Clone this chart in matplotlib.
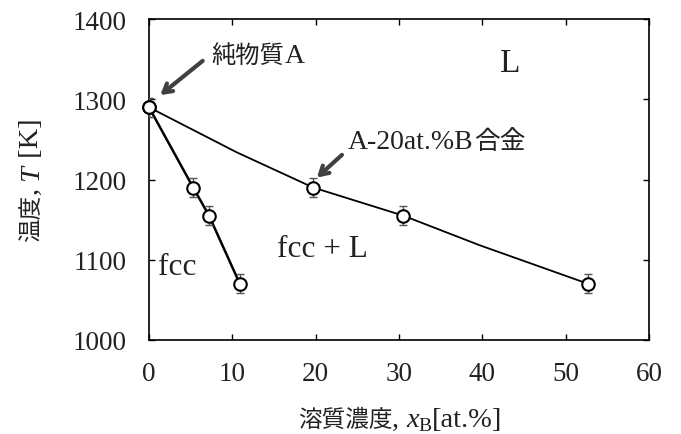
import matplotlib
matplotlib.use("Agg")
import matplotlib.pyplot as plt
from matplotlib.font_manager import FontProperties

# ---- data ----
solidus_x = [0.0, 5.3, 7.2, 10.9]
solidus_T = [1290, 1190, 1155, 1070]
liquidus_x = [0.0, 19.7, 30.5, 52.7]
liquidus_T = [1290, 1190, 1155, 1070]
liquidus_fit_x = [0.0, 10.5, 19.7, 30.5, 39.7, 52.7]
liquidus_fit_T = [1290, 1234, 1190, 1155, 1118, 1070]
err_T = 12
xticks = [0, 10, 20, 30, 40, 50, 60]
yticks = [1000, 1100, 1200, 1300, 1400]

SERIF = 'Liberation Serif'
CJK = 'Noto Sans CJK JP'
GREY = '#404040'
TXT = '#222222'

fig = plt.figure(figsize=(6.81, 4.35), dpi=100)
W, H = 681, 435
ax = fig.add_axes([149 / W, 1 - 341 / H, 500 / W, 321 / H])

ax.plot(liquidus_fit_x, liquidus_fit_T, color='black', lw=1.3, zorder=2)
ax.plot(solidus_x, solidus_T, color='black', lw=1.8, zorder=2)
for xs, ts in [(solidus_x, solidus_T), (liquidus_x, liquidus_T)]:
    ax.errorbar(xs, ts, yerr=err_T, fmt='none', ecolor='#555555',
                elinewidth=1.0, capsize=3, capthick=1.0, zorder=3)
    ax.plot(xs, ts, 'o', ms=9, mfc='white', mec='black', mew=1.5,
            zorder=4, clip_on=False)

ax.set_xlim(0, 60)
ax.set_ylim(1000, 1400)
ax.set_xticks(xticks)
ax.set_yticks(yticks)
ax.tick_params(direction='in', top=True, right=True, length=4,
               width=1.0, labelsize=19.5, labelcolor=TXT)
ax.tick_params(axis='x', pad=15)
ax.tick_params(axis='y', pad=16)
for lab in ax.get_xticklabels() + ax.get_yticklabels():
    lab.set_fontfamily(SERIF)
for s in ax.spines.values():
    s.set_linewidth(1.2)

# arrows
arrow = dict(arrowstyle='->,head_length=0.6,head_width=0.35', color=GREY, lw=3)
ax.annotate('', xy=(1.1, 1303), xytext=(6.7, 1350), arrowprops=arrow)
ax.annotate('', xy=(19.9, 1200), xytext=(23.4, 1233), arrowprops=arrow)

# plain serif region labels
ax.text(43.3, 1345, 'L', family=SERIF, fontsize=24, color=TXT,
        ha='center', va='center')
ax.text(15.4, 1114, 'fcc + L', family=SERIF, fontsize=22.5, color=TXT,
        ha='left', va='center')
ax.text(1.1, 1091, 'fcc', family=SERIF, fontsize=22.5, color=TXT,
        ha='left', va='center')

fig.canvas.draw()
r = fig.canvas.get_renderer()


def layout(pieces, x0, y0, vertical=False, center=True):
    """pieces: (text, fontprops, baseline_offset_px); x0,y0 in px from
    bottom-left; for vertical text x0 is the baseline."""
    objs = []
    for txt, fp, off in pieces:
        if vertical:
            t = fig.text(0, 0, txt, fontproperties=fp, rotation=90,
                         rotation_mode='anchor', ha='left', va='baseline',
                         color=TXT)
        else:
            t = fig.text(0, 0, txt, fontproperties=fp, ha='left',
                         va='baseline', color=TXT)
        objs.append((t, off))
    sizes = []
    for t, off in objs:
        bb = t.get_window_extent(r)
        sizes.append(bb.height if vertical else bb.width)
    total = sum(sizes)
    pos = (y0 if vertical else x0) - (total / 2 if center else 0)
    for (t, off), s in zip(objs, sizes):
        if vertical:
            t.set_position(((x0 - off) / W, pos / H))
        else:
            t.set_position((pos / W, (y0 + off) / H))
        pos += s


def data_px(x, y):
    return ax.transData.transform((x, y))


cjk = FontProperties(family=CJK, size=17)
ser = FontProperties(family=SERIF, size=20.5)
ita = FontProperties(family=SERIF, style='italic', size=20.5)
sub = FontProperties(family=SERIF, size=14)

# x label (baseline y in px from bottom)
layout([('溶質濃度', cjk, 0), (', ', ser, 0), ('x', ita, 0), ('B', sub, -4),
        ('[at.%]', ser, 0)], 400, H - 427)
# y label (baseline x in px from left)
layout([('温度', cjk, 0), (', ', ser, 0), ('T', ita, 0), (' [K]', ser, 0)],
       38, H - 180, vertical=True)

# annotation labels (mixed CJK / serif)
cjk_a = FontProperties(family=CJK, size=17.5)
ser_a = FontProperties(family=SERIF, size=20)
px, py = data_px(7.5, 1346)
layout([('純物質', cjk_a, 0), ('A', ser_a, 0)], px, py, center=False)
px, py = data_px(23.9, 1239)
layout([('A-20at.%B', ser_a, 0), ('合金', FontProperties(family=CJK, size=18.5), 0)],
       px, py, center=False)

fig.savefig('out.png', dpi=100)
